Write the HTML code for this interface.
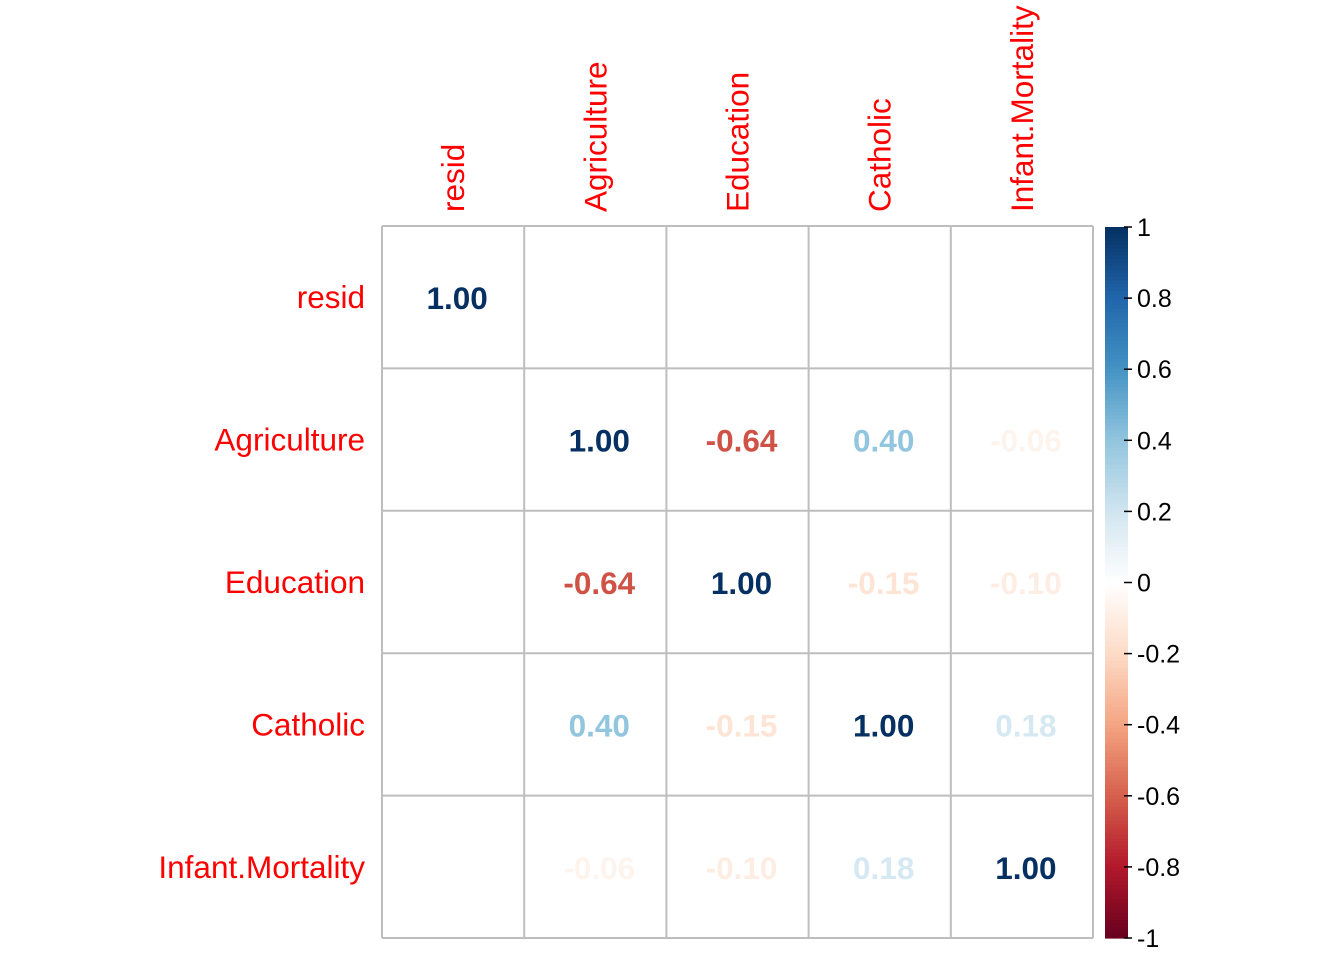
<!DOCTYPE html>
<html><head><meta charset="utf-8"><style>
html,body{margin:0;padding:0;background:#fff;}
svg{display:block;font-family:"Liberation Sans",Arial,sans-serif;}
</style></head><body>
<svg id="chart" width="1344" height="960" viewBox="0 0 1344 960"></svg>
<script>
const variables = ["resid","Agriculture","Education","Catholic","Infant.Mortality"];
const corrRows = [
  [1.00, 0.00, 0.00, 0.00, 0.00],
  [0.00, 1.00, -0.64, 0.40, -0.06],
  [0.00, -0.64, 1.00, -0.15, -0.10],
  [0.00, 0.40, -0.15, 1.00, 0.18],
  [0.00, -0.06, -0.10, 0.18, 1.00]
];
const legendTicks = [1,0.8,0.6,0.4,0.2,0,-0.2,-0.4,-0.6,-0.8,-1];
const legendTickLabels = ["1","0.8","0.6","0.4","0.2","0","-0.2","-0.4","-0.6","-0.8","-1"];

const palette = ["#67001F","#B2182B","#D6604D","#F4A582","#FDDBC7","#FFFFFF","#D1E5F0","#92C5DE","#4393C3","#2166AC","#053061"];
function hex(h){return [1,3,5].map(i=>parseInt(h.substr(i,2),16));}
function colorFor(v){
  const t=(v+1)/2*(palette.length-1);
  const i=Math.min(Math.floor(t),palette.length-2), f=t-i;
  const a=hex(palette[i]), b=hex(palette[i+1]);
  return "rgb("+a.map((x,k)=>Math.round(x+(b[k]-x)*f)).join(",")+")";
}
const NS="http://www.w3.org/2000/svg";
const svg=document.getElementById('chart');
function el(tag,attrs,text){const e=document.createElementNS(NS,tag);for(const k in attrs)e.setAttribute(k,attrs[k]);if(text!==undefined)e.textContent=text;svg.appendChild(e);return e;}

const x0=382,x1=1093,y0=226,y1=938,n=variables.length;
const cw=(x1-x0)/n, ch=(y1-y0)/n;
const colX=j=>x0+cw*(j+0.5), rowY=i=>y0+ch*(i+0.5);

corrRows.forEach((row,i)=>row.forEach((v,j)=>{
  const t=el('text',{x:colX(j)+4,y:rowY(i)+12,'text-anchor':'middle','font-size':31.5,'font-weight':'bold',fill:colorFor(v)},v.toFixed(2));
  
  
}));
for(let k=0;k<=n;k++){
  const v=el('line',{x1:x0+cw*k,y1:y0,x2:x0+cw*k,y2:y1,stroke:'#bebebe','stroke-width':2});
  
  
  const h=el('line',{x1:x0,y1:y0+ch*k,x2:x1,y2:y0+ch*k,stroke:'#bebebe','stroke-width':2});
  
  
}
variables.forEach((name,i)=>{
  const r=el('text',{x:365,y:rowY(i)+11,'text-anchor':'end','font-size':31.5,fill:'#ff0000'},name);
  
  
  const cx=colX(i)+11;
  const c=el('text',{x:cx,y:212,'text-anchor':'start','font-size':31.5,fill:'#ff0000',transform:'rotate(-90 '+cx+' 212)'},name);
  
  
});
const bx=1105,bw=23,by0=227,by1=938;
const ly=v=>by0+(1-v)/2*(by1-by0);
const steps=200;
for(let s=0;s<steps;s++){
  const v=1-2*(s+0.5)/steps;
  const r=el('rect',{x:bx,y:by0+(by1-by0)*s/steps,width:bw,height:(by1-by0)/steps+0.6,fill:colorFor(v)});
  
  
}
legendTicks.forEach((v,k)=>{
  const tm=el('line',{x1:bx+bw-4,y1:ly(v),x2:bx+bw+4,y2:ly(v),stroke:'#000','stroke-width':1.5});
  
  
  const t=el('text',{x:1137,y:ly(v)+9,'font-size':25,fill:'#000'},legendTickLabels[k]);
  
  
});
</script>
</body></html>
